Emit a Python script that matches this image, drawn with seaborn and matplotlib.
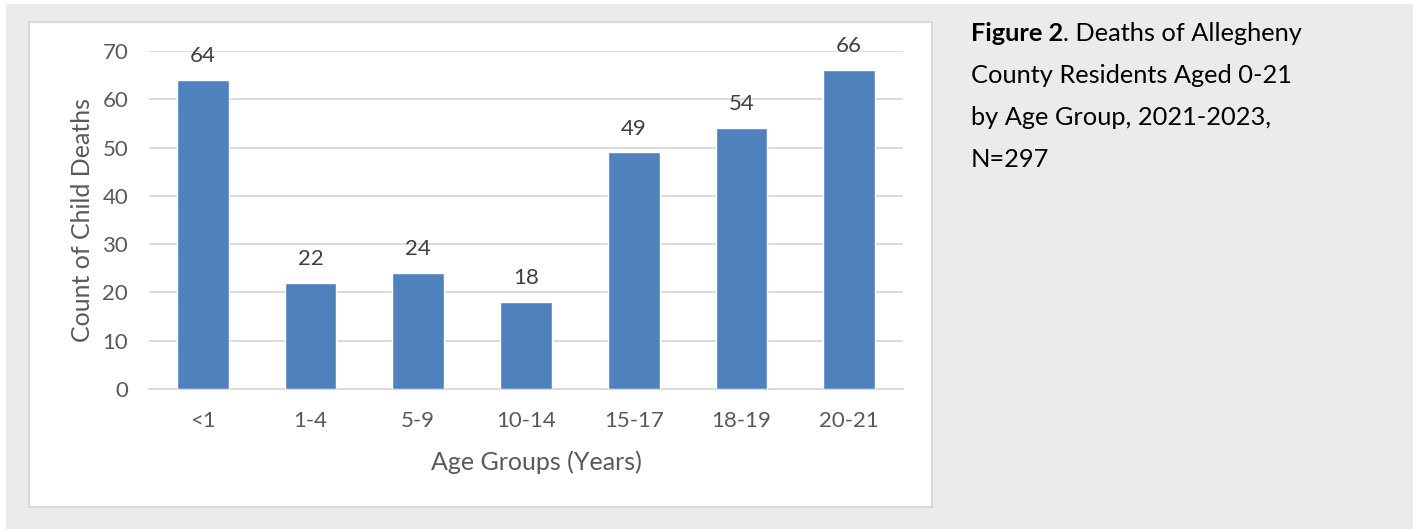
import matplotlib
matplotlib.use("Agg")
import matplotlib.pyplot as plt
import matplotlib.patches as mpatches
import seaborn as sns
import pandas as pd

age_groups = ["<1", "1-4", "5-9", "10-14", "15-17", "18-19", "20-21"]
deaths = [64, 22, 24, 18, 49, 54, 66]
y_ticks = [0, 10, 20, 30, 40, 50, 60, 70]
x_title = "Age Groups (Years)"
y_title = "Count of Child Deaths"
caption_bold = "Figure 2"
caption_lines = [". Deaths of Allegheny", "County Residents Aged 0-21",
                 "by Age Group, 2021-2023,", "N=297"]

sns.set_theme(style="white")
plt.rcParams["font.family"] = ["Lato", "DejaVu Sans"]

W, H = 1413, 529
fig = plt.figure(figsize=(W / 100, H / 100), dpi=100, facecolor="white")

# grey page background
fig.patches.append(mpatches.Rectangle((6 / W, 0), 1 - 6 / W, 1 - 4 / H,
                                      transform=fig.transFigure,
                                      facecolor="#ebebeb", edgecolor="none", zorder=0))
# white chart box
fig.patches.append(mpatches.Rectangle((29 / W, 1 - 507 / H), (932 - 29) / W, (507 - 22) / H,
                                      transform=fig.transFigure,
                                      facecolor="white", edgecolor="#d9d9d9", linewidth=1.5, zorder=1))

ax = fig.add_axes([149 / W, 1 - 389 / H, (903 - 149) / W, (389 - 51) / H])
ax.set_facecolor("none")
ax.set_zorder(2)

df = pd.DataFrame({"age": age_groups, "deaths": deaths})
sns.barplot(data=df, x="age", y="deaths", color="#4f81bd", saturation=1,
            width=0.48, ax=ax, zorder=3)

ax.set_ylim(0, 70)
ax.set_yticks(y_ticks)
ax.yaxis.grid(True, color="#d9d9d9", linewidth=1.3)
ax.set_axisbelow(True)
for s in ["top", "right", "left"]:
    ax.spines[s].set_visible(False)
ax.spines["bottom"].set_color("#d9d9d9")
ax.spines["bottom"].set_linewidth(1.3)
ax.tick_params(axis="both", length=0, labelsize=16, colors="#595959")
ax.tick_params(axis="y", pad=15)
ax.tick_params(axis="x", pad=16)

ax.set_xlabel(x_title, fontsize=18, color="#595959", labelpad=14)
ax.set_ylabel(y_title, fontsize=18, color="#595959", labelpad=6)
ax.xaxis.label.set_x(0.514)

for container in ax.containers:
    ax.bar_label(container, labels=[str(v) for v in deaths], padding=10,
                 fontsize=16, color="#404040")

# caption
x0 = 971 / W
cap_size = 18.3
t = fig.text(x0, 1 - 41 / H, caption_bold, fontsize=cap_size, fontweight="bold",
             color="black", va="baseline", ha="left")
fig.canvas.draw()
bb = t.get_window_extent()
fig.text(bb.x1 / W, 1 - 41 / H, caption_lines[0], fontsize=cap_size,
         color="black", va="baseline", ha="left")
for i, line in enumerate(caption_lines[1:], start=1):
    fig.text(x0, 1 - (41 + 42 * i) / H, line, fontsize=cap_size,
             color="black", va="baseline", ha="left")

fig.savefig("out.png", dpi=100, facecolor="white")
